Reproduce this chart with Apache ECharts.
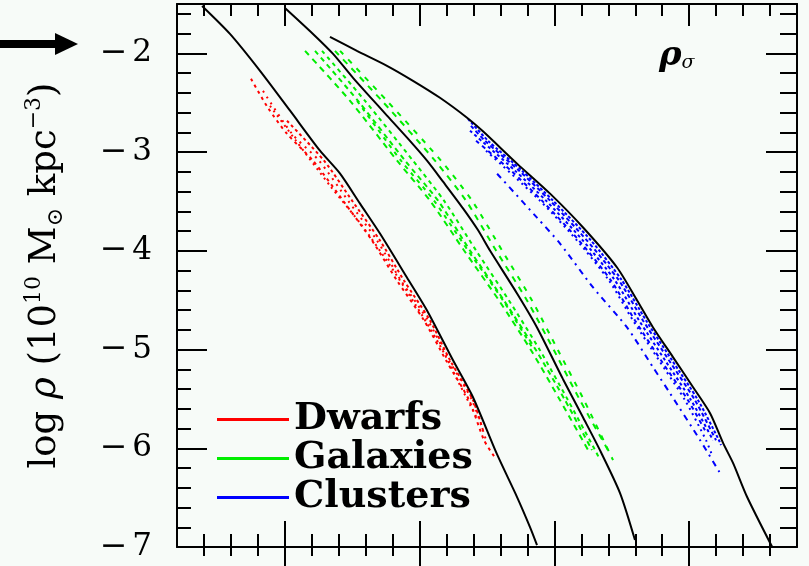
<!DOCTYPE html>
<html>
<head>
<meta charset="utf-8">
<script src="https://cdn.jsdelivr.net/npm/echarts@6/dist/echarts.min.js"></script>
<style>
  html, body { margin: 0; padding: 0; background: #f7fbf8; }
  #chart { width: 809px; height: 566px; }
</style>
</head>
<body>
<div id="chart"></div>
<script>
// Density profiles: x = log r (kpc), y = log rho (1e10 Msun / kpc^3)

// Fitted model curves (solid black)
const dwarfFit = [[-0.614,-1.52],[-0.407,-1.803],[-0.184,-2.177],[0.039,-2.581],[0.261,-2.986],[0.410,-3.218],[0.558,-3.522],[0.706,-3.825],[0.906,-4.270],[1.055,-4.604],[1.248,-5.109],[1.396,-5.483],[1.574,-6.060],[1.723,-6.494],[1.819,-6.798],[1.871,-6.98]];
const galaxyFit = [[0.001,-1.54],[0.209,-1.803],[0.358,-2.005],[0.506,-2.248],[0.632,-2.440],[0.758,-2.630],[0.907,-2.854],[1.055,-3.087],[1.174,-3.300],[1.322,-3.570],[1.433,-3.790],[1.522,-3.997],[1.723,-4.432],[1.871,-4.776],[2.064,-5.300],[2.212,-5.686],[2.338,-6.019],[2.487,-6.454],[2.598,-6.93]];
const clusterFit = [[0.335,-1.833],[0.535,-1.975],[0.758,-2.126],[0.951,-2.278],[1.151,-2.450],[1.352,-2.652],[1.470,-2.790],[1.723,-3.117],[1.968,-3.421],[2.213,-3.764],[2.465,-4.169],[2.614,-4.503],[2.732,-4.776],[2.881,-5.079],[3.029,-5.382],[3.155,-5.645],[3.252,-5.948],[3.326,-6.151],[3.430,-6.494],[3.616,-7.0]];

// Individual dwarf halos
const dwarf1 = [[-0.251,-2.258],[-0.125,-2.552],[0.016,-2.814],[0.209,-3.087],[0.432,-3.492],[0.647,-3.896],[0.832,-4.301],[1.033,-4.705],[1.196,-5.109],[1.367,-5.513],[1.478,-5.918],[1.552,-6.080]];
const dwarf2 = [[-0.162,-2.380],[0.053,-2.814],[0.254,-3.087],[0.469,-3.492],[0.684,-3.896],[0.862,-4.301],[1.062,-4.705],[1.218,-5.109],[1.389,-5.513],[1.493,-5.918]];
const dwarf3 = [[0.016,-2.683],[0.291,-3.087],[0.499,-3.492],[0.706,-3.896],[0.884,-4.301],[1.077,-4.705],[1.226,-5.109],[1.396,-5.513],[1.470,-5.817]];
const dwarf4 = [[-0.110,-2.531],[0.083,-2.885],[0.335,-3.340],[0.573,-3.745],[0.781,-4.149],[0.973,-4.553],[1.151,-4.958],[1.300,-5.362],[1.433,-5.716]];

// Individual galaxy halos
const galaxy1 = [[0.150,-1.975],[0.484,-2.481],[0.833,-3.087],[1.077,-3.492],[1.330,-3.997],[1.589,-4.503],[1.827,-5.008],[2.042,-5.513],[2.250,-6.019]];
const galaxy2 = [[0.224,-1.975],[0.543,-2.481],[0.892,-3.087],[1.137,-3.492],[1.374,-3.997],[1.626,-4.503],[1.864,-5.008],[2.079,-5.513],[2.279,-6.019]];
const galaxy3 = [[0.276,-1.975],[0.595,-2.481],[0.951,-3.087],[1.181,-3.492],[1.419,-3.997],[1.663,-4.503],[1.893,-5.008],[2.101,-5.513],[2.302,-6.019],[2.340,-6.120]];
const galaxy4 = [[0.372,-1.975],[0.721,-2.481],[1.114,-3.087],[1.344,-3.492],[1.567,-3.997],[1.797,-4.503],[1.997,-5.008],[2.190,-5.513],[2.398,-6.019]];
const galaxy5 = [[0.410,-1.975],[0.758,-2.481],[1.159,-3.087],[1.389,-3.492],[1.612,-3.997],[1.834,-4.503],[2.027,-5.008],[2.220,-5.513],[2.435,-6.120]];
const galaxy6 = [[0.536,-2.481],[0.862,-3.087],[1.107,-3.492],[1.359,-3.997],[1.619,-4.503],[1.849,-5.008]];

// Individual cluster halos
const cluster1 = [[1.359,-2.663],[1.508,-2.885],[1.760,-3.188],[1.990,-3.492],[2.272,-3.896],[2.502,-4.301],[2.680,-4.705],[2.873,-5.109],[3.066,-5.513],[3.221,-5.918],[3.236,-5.969]];
const cluster2 = [[1.381,-2.734],[1.485,-2.885],[1.738,-3.188],[1.968,-3.492],[2.242,-3.896],[2.479,-4.301],[2.657,-4.705],[2.850,-5.109],[3.043,-5.513],[3.199,-5.918]];
const cluster3 = [[1.374,-2.784],[1.708,-3.188],[1.938,-3.492],[2.212,-3.896],[2.450,-4.301],[2.628,-4.705],[2.821,-5.109],[3.014,-5.513],[3.177,-5.918]];
const cluster4 = [[1.419,-2.885],[1.678,-3.188],[1.908,-3.492],[2.183,-3.896],[2.420,-4.301],[2.598,-4.705],[2.791,-5.109],[2.991,-5.513],[3.117,-5.817]];
const cluster5 = [[1.493,-2.986],[1.893,-3.492],[2.168,-3.896],[2.405,-4.301],[2.583,-4.705],[2.776,-5.109],[2.969,-5.513],[3.125,-5.918],[3.170,-6.070]];
const cluster6 = [[1.575,-3.219],[1.871,-3.664],[2.042,-3.927],[2.287,-4.371],[2.539,-4.776],[2.732,-5.180],[2.858,-5.443],[3.081,-5.918],[3.229,-6.252]];

// Axis ticks and labels
const xMajorTicks = [0, 1, 2, 3];
const yMajorTicks = [-7, -6, -5, -4, -3, -2];
const legendNames = ['Dwarfs', 'Galaxies', 'Clusters'];
const panelLabel = ['ρ', 'σ'];

const X_MIN = -0.8, X_MAX = 3.8, Y_MIN = -7, Y_MAX = -1.5;

const xMinorTicks = [];
for (let k = -3; k <= 18; k++) if (k % 5 !== 0) xMinorTicks.push(k / 5);
const yMinorTicks = [];
for (let k = -34; k <= -8; k++) if (k % 5 !== 0) yMinorTicks.push(k / 5);

const INK = '#000';
const RED = '#ff0000', GREEN = '#00ee00', BLUE = '#0000ff';
const SERIF = "'DejaVu Serif', 'Liberation Serif', serif";

function xAx(position, ticks, len, inside, lineShow) {
  return {
    type: 'value', gridIndex: 0, position: position, min: X_MIN, max: X_MAX,
    axisLine: { show: lineShow, onZero: false, lineStyle: { color: INK, width: 2 } },
    axisTick: { show: true, inside: inside, length: len, customValues: ticks, lineStyle: { color: INK, width: 2 } },
    axisLabel: { show: false }, splitLine: { show: false }
  };
}
function yAx(position, ticks, len, lineShow) {
  return {
    type: 'value', gridIndex: 0, position: position, min: Y_MIN, max: Y_MAX,
    axisLine: { show: lineShow, onZero: false, lineStyle: { color: INK, width: 2 } },
    axisTick: { show: true, inside: true, length: len, customValues: ticks, lineStyle: { color: INK, width: 2 } },
    axisLabel: { show: false }, splitLine: { show: false }
  };
}

const leftAxis = yAx('left', yMajorTicks, 30, true);
leftAxis.axisLabel = {
  show: true, customValues: yMajorTicks, margin: 25,
  formatter: v => '{m|−}{d|' + Math.abs(v) + '}',
  rich: {
    m: { fontFamily: SERIF, fontSize: 33, color: INK, padding: [0, 5, 0, 0] },
    d: { fontFamily: SERIF, fontSize: 31, color: INK }
  }
};
leftAxis.name = '{t|log }{r|ρ}{t| (10}{p|10}{t| M}{b|⊙}{t| kpc}{p|−3}{t|)}';
leftAxis.nameLocation = 'middle';
leftAxis.nameRotate = 90;
leftAxis.nameGap = 110;
leftAxis.nameTextStyle = {
  color: INK,
  rich: {
    t: { fontFamily: SERIF, fontSize: 37, color: INK, lineHeight: 44 },
    r: { fontFamily: SERIF, fontStyle: 'italic', fontSize: 37, color: INK, lineHeight: 44 },
    p: { fontFamily: SERIF, fontSize: 22, color: INK, verticalAlign: 'top' },
    b: { fontFamily: SERIF, fontSize: 22, color: INK, verticalAlign: 'bottom' }
  }
};

function profile(name, data, color, dash, width) {
  return {
    name: name, type: 'line', data: data, xAxisIndex: 0, yAxisIndex: 0,
    showSymbol: false, symbol: 'none', smooth: 0.25, silent: true,
    lineStyle: { color: color, width: width || 2, type: dash },
    itemStyle: { color: color }, z: 2
  };
}

const series = [
  profile('Dwarfs', dwarf1, RED, [3, 4]),
  profile('Dwarfs', dwarf2, RED, [2, 5]),
  profile('Dwarfs', dwarf3, RED, [3, 3]),
  profile('Dwarfs', dwarf4, RED, [2, 4]),
  profile('Galaxies', galaxy1, GREEN, [6, 5]),
  profile('Galaxies', galaxy2, GREEN, [5, 4]),
  profile('Galaxies', galaxy3, GREEN, [4, 4]),
  profile('Galaxies', galaxy4, GREEN, [6, 6]),
  profile('Galaxies', galaxy5, GREEN, [5, 7]),
  profile('Galaxies', galaxy6, GREEN, [4, 5]),
  profile('Clusters', cluster1, BLUE, [3, 2]),
  profile('Clusters', cluster2, BLUE, [4, 3]),
  profile('Clusters', cluster3, BLUE, [3, 3]),
  profile('Clusters', cluster4, BLUE, [4, 4]),
  profile('Clusters', cluster5, BLUE, [2, 4]),
  profile('Clusters', cluster6, BLUE, [6, 5, 2, 5]),
  profile('fit', dwarfFit, INK, 'solid', 2),
  profile('fit', galaxyFit, INK, 'solid', 2),
  profile('fit', clusterFit, INK, 'solid', 2)
];
series.slice(-3).forEach(s => { s.z = 3; });

const legendColors = [RED, GREEN, BLUE];

const chart = echarts.init(document.getElementById('chart'), null, { renderer: 'canvas' });
chart.setOption({
  backgroundColor: '#f7fbf8',
  animation: false,
  grid: { left: 177, right: 12, top: 4, bottom: 19, containLabel: false },
  xAxis: [
    xAx('bottom', xMajorTicks, 26, true, true),
    xAx('bottom', xMinorTicks, 13, true, false),
    xAx('bottom', xMajorTicks, 22, false, false),
    xAx('bottom', xMinorTicks, 9, false, false),
    xAx('top', xMajorTicks, 22, true, true),
    xAx('top', xMinorTicks, 12, true, false)
  ],
  yAxis: [
    leftAxis,
    yAx('left', yMinorTicks, 14, false),
    yAx('right', yMajorTicks, 31, true),
    yAx('right', yMinorTicks, 17, false)
  ],
  legend: {
    orient: 'vertical', left: 217, top: 400, padding: 0, itemGap: 0,
    itemWidth: 72, itemHeight: 3, icon: 'rect', selectedMode: false,
    data: legendNames.map((n, i) => ({ name: n, itemStyle: { color: legendColors[i], borderWidth: 0 } })),
    textStyle: { fontFamily: SERIF, fontSize: 38, fontWeight: 'bold', color: INK, lineHeight: 39 }
  },
  graphic: [
    {
      type: 'group', left: 0, top: 33, silent: true,
      children: [
        { type: 'rect', shape: { x: 0, y: 7, width: 58, height: 8 }, style: { fill: INK } },
        { type: 'polygon', shape: { points: [[55, 0], [78, 11], [55, 22]] }, style: { fill: INK } }
      ]
    },
    {
      type: 'text', left: 659, top: 39, silent: true,
      style: {
        text: '{r|' + panelLabel[0] + '}{s|' + panelLabel[1] + '}',
        rich: {
          r: { fontFamily: SERIF, fontStyle: 'italic', fontWeight: 'bold', fontSize: 34, fill: INK },
          s: { fontFamily: SERIF, fontStyle: 'italic', fontSize: 19, fill: INK, verticalAlign: 'bottom' }
        }
      }
    }
  ],
  series: series
});
</script>
</body>
</html>
